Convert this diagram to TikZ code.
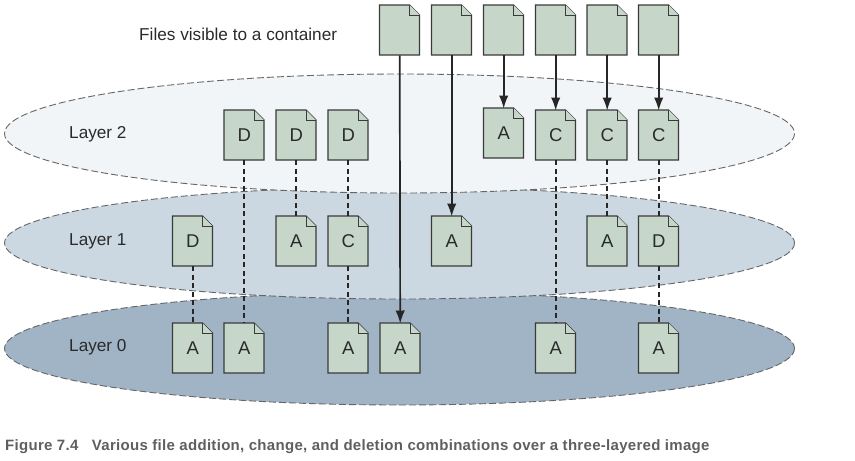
\documentclass[tikz,border=0pt]{standalone}
\usepackage{fontspec}
\setmainfont{Liberation Sans}
\newfontfamily\capfont[LetterSpace=2.0]{Liberation Sans}
\usetikzlibrary{arrows.meta}
\definecolor{filegreen}{HTML}{C6D7CA}
\definecolor{edgegray}{HTML}{3A3A3A}
\definecolor{laytwo}{HTML}{F1F5F7}
\definecolor{layone}{HTML}{CBD8E2}
\definecolor{layzero}{HTML}{A0B4C6}
\definecolor{dashgray}{HTML}{666666}
\definecolor{textdark}{HTML}{2A2A2A}
\definecolor{capgray}{HTML}{5F5F5F}
\tikzset{
  x=1pt,y=-1pt,
  layerell/.style={draw=dashgray,line width=0.9pt,dash pattern=on 7pt off 3pt},
  fileshape/.style={fill=filegreen,draw=edgegray,line width=1.3pt,line join=miter},
  filenode/.style={inner sep=0pt,minimum width=40pt,minimum height=50pt,font=\fontsize{18.5}{20}\selectfont,text=textdark},
  solidarrow/.style={draw=black!85,line width=1.7pt,-{Latex[length=13pt,width=9.5pt]},shorten >=-0.5pt},
  dashconn/.style={draw=black!85,line width=1.6pt,dash pattern=on 5pt off 3.5pt},
  lab/.style={font=\fontsize{17.2}{20}\selectfont,text=textdark,inner sep=0pt}
}
\newcommand{\docfile}[4]{% name, left, top, label
  \begin{scope}[shift={(#2,#3)}]
    \path[fileshape] (0,0) -- (30,0) -- (40,10) -- (40,50) -- (0,50) -- cycle;
    \path[fileshape,line width=1pt] (30,0) -- (30,10) -- (40,10);
    \node[filenode,anchor=north west] (#1) at (0,0) {#4};
  \end{scope}}
\begin{document}
\begin{tikzpicture}
\useasboundingbox (0,0) rectangle (855,461);
% layers
\path[layerell,fill=layzero] (399.5,348.5) ellipse [x radius=395,y radius=56.5];
\path[layerell,fill=layone] (399.5,243) ellipse [x radius=395,y radius=56];
\path[layerell,fill=laytwo] (399.5,133.5) ellipse [x radius=395,y radius=59.5];
\node[lab,anchor=west] (ltop) at (139,34) {Files visible to a container};
\node[lab,anchor=west] (ltwo) at (69,134) {Layer 2};
\node[lab,anchor=west] (lone) at (69,241) {Layer 1};
\node[lab,anchor=west] (lzero) at (69,347) {Layer 0};
% files
\docfile{t1}{379.5}{5}{}
\docfile{t2}{431.5}{5}{}
\docfile{t3}{483.5}{5}{}
\docfile{t4}{535.5}{5}{}
\docfile{t5}{587}{5}{}
\docfile{t6}{638.5}{5}{}
\docfile{b1}{224}{110}{D}
\docfile{b2}{276}{110}{D}
\docfile{b3}{328}{110}{D}
\docfile{b4}{483.5}{108}{A}
\docfile{b5}{535.5}{110}{C}
\docfile{b6}{587}{110}{C}
\docfile{b7}{638.5}{110}{C}
\docfile{m1}{172.5}{216}{D}
\docfile{m2}{276}{216}{A}
\docfile{m3}{328}{216}{C}
\docfile{m4}{431.5}{216}{A}
\docfile{m5}{587}{216}{A}
\docfile{m6}{638.5}{216}{D}
\docfile{z1}{172.5}{323}{A}
\docfile{z2}{224}{323}{A}
\docfile{z3}{328}{323}{A}
\docfile{z4}{380}{323}{A}
\docfile{z5}{535.5}{323}{A}
\docfile{z6}{638.5}{323}{A}
% dashed connectors
\draw[dashconn] (b1.south) -- (z2.north);
\draw[dashconn] (b2.south) -- (m2.north);
\draw[dashconn] (b3.south) -- (m3.north);
\draw[dashconn] (m3.south) -- (z3.north);
\draw[dashconn] (m1.south) -- (z1.north);
\draw[dashconn] (b5.south) -- (z5.north);
\draw[dashconn] (b6.south) -- (m5.north);
\draw[dashconn] (b7.south) -- (m6.north);
\draw[dashconn] (m6.south) -- (z6.north);
% solid arrows
\draw[solidarrow] (t1.south) -- (z4.north);
\draw[solidarrow] (t2.south) -- (m4.north);
\draw[solidarrow] (t3.south) -- (b4.north);
\draw[solidarrow] (t4.south) -- (b5.north);
\draw[solidarrow] (t5.south) -- (b6.north);
\draw[solidarrow] (t6.south) -- (b7.north);
% caption
\node[anchor=west,inner sep=0pt,text=capgray,font=\capfont\bfseries\fontsize{15}{20}\selectfont] (cap) at (5,447) {Figure 7.4\hspace{0.9em}Various file addition, change, and deletion combinations over a three-layered image};
\end{tikzpicture}
\end{document}
